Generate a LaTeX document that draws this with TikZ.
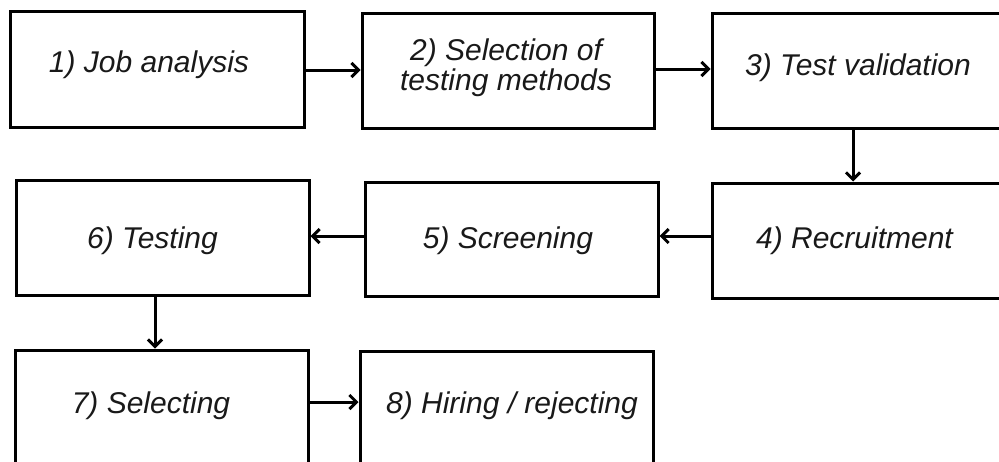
\documentclass[tikz,border=0pt]{standalone}
\usepackage{fontspec}
\setmainfont{Liberation Sans}
\usetikzlibrary{arrows.meta}
\begin{document}
\begin{tikzpicture}[x=1pt,y=-1pt,
  box/.style={draw=black,line width=3pt,rectangle,inner sep=0pt},
  lbl/.style={anchor=base,inner sep=0pt,font=\fontsize{30}{30}\selectfont\itshape,text=black!90},
  arr/.style={line width=3pt,-{Straight Barb[length=7pt,width=14pt,line width=3pt]}}]
\useasboundingbox (0,0) rectangle (999,461);
\clip (0,0) rectangle (999,461);
\fill[white] (0,0) rectangle (999,461);
% boxes
\node[box,minimum width=294pt,minimum height=116pt] (b1) at (157,69) {};
\node[box,minimum width=292pt,minimum height=115pt] (b2) at (508,70.5) {};
\node[box,minimum width=300pt,minimum height=115pt] (b3) at (862,70.5) {};
\node[box,minimum width=300pt,minimum height=115pt] (b4) at (862,240.5) {};
\node[box,minimum width=293pt,minimum height=114pt] (b5) at (511.5,239) {};
\node[box,minimum width=293pt,minimum height=115pt] (b6) at (162.5,237.5) {};
\node[box,minimum width=293pt,minimum height=130pt] (b7) at (161.5,415) {};
\node[box,minimum width=293pt,minimum height=130pt] (b8) at (506.5,416) {};
% labels
\node[lbl] (t1) at (149,72) {1) Job analysis};
\node[lbl] (t2a) at (506,60) {2) Selection of};
\node[lbl] (t2b) at (506,90) {testing methods};
\node[lbl] (t3) at (858,75) {3) Test validation};
\node[lbl] (t4) at (854.5,248) {4) Recruitment};
\node[lbl] (t5) at (508,248) {5) Screening};
\node[lbl] (t6) at (152.5,248) {6) Testing};
\node[lbl] (t7) at (151,413) {7) Selecting};
\node[lbl] (t8) at (512,413) {8) Hiring / rejecting};
% connector positions
\coordinate (y12) at (0,70);
\coordinate (y23) at (0,69);
\coordinate (x34) at (853,0);
\coordinate (y45) at (0,236);
\coordinate (x67) at (155,0);
\coordinate (y78) at (0,402);
% connectors
\draw[arr] (b1.east |- y12) -- (b2.west |- y12);
\draw[arr] (b2.east |- y23) -- (b3.west |- y23);
\draw[arr] (b3.south -| x34) -- (b4.north -| x34);
\draw[arr] (b4.west |- y45) -- (b5.east |- y45);
\draw[arr] (b5.west |- y45) -- (b6.east |- y45);
\draw[arr] (b6.south -| x67) -- (b7.north -| x67);
\draw[arr] (b7.east |- y78) -- (b8.west |- y78);
\end{tikzpicture}
\end{document}
